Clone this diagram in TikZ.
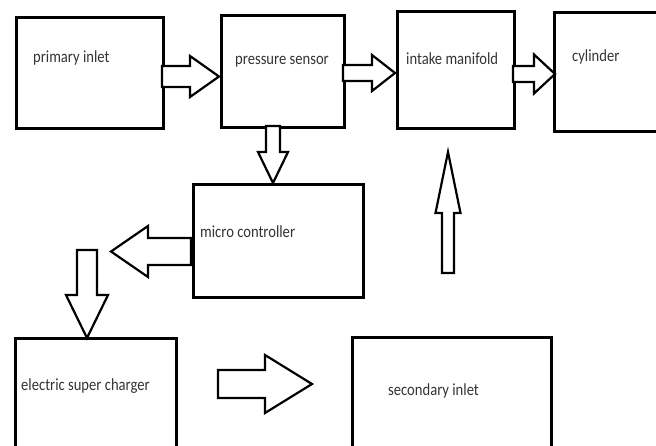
\documentclass[tikz,border=0pt]{standalone}
\usepackage{fontspec}
\setmainfont{Carlito}
\newcommand{\harr}[6]{\draw[blk] (#1,#4-#5) -- (#2,#4-#5) -- (#2,#4-#6) -- (#3,#4) -- (#2,#4+#6) -- (#2,#4+#5) -- (#1,#4+#5) -- cycle;}
\newcommand{\varr}[6]{\draw[blk] (#4-#5,#1) -- (#4-#5,#2) -- (#4-#6,#2) -- (#4,#3) -- (#4+#6,#2) -- (#4+#5,#2) -- (#4+#5,#1) -- cycle;}
\begin{document}
\begin{tikzpicture}[x=1pt,y=-1pt,
  box/.style={draw=black, line width=3pt, inner sep=0pt, anchor=north west},
  blk/.style={draw=black, line width=2.2pt, fill=white, line join=miter},
  lbl/.style={anchor=base west, inner sep=0pt, text=black!80, xscale=0.86, font=\fontsize{17}{20}\selectfont}]
\useasboundingbox (0,0) rectangle (656,445);
\clip (0,0) rectangle (656,445);
% boxes
\node[box, minimum width=147pt, minimum height=111pt] (prim) at (15,16) {};
\node[box, minimum width=123pt, minimum height=112pt] (press) at (220,14) {};
\node[box, minimum width=117pt, minimum height=117pt] (intake) at (396,10) {};
\node[box, minimum width=127pt, minimum height=119pt] (cyl) at (553,11) {};
\node[box, minimum width=170pt, minimum height=113pt] (micro) at (192,183) {};
\node[box, minimum width=161pt, minimum height=123pt] (elec) at (14,337) {};
\node[box, minimum width=199pt, minimum height=124pt] (sec) at (351,336) {};
% labels
\node[lbl] (tprim) at (33,62) {primary inlet};
\node[lbl] (tpress) at (235,64) {pressure sensor};
\node[lbl] (tintake) at (406,64) {intake manifold};
\node[lbl] (tcyl) at (572,61) {cylinder};
\node[lbl] (tmicro) at (200,237) {micro controller};
\node[lbl] (telec) at (21,390) {electric super charger};
\node[lbl] (tsec) at (388,395) {secondary inlet};
% block arrows
\harr{162}{190}{219}{76.5}{10.5}{20.5}
\harr{343}{372}{395}{73}{8}{18}
\harr{513}{534}{555}{74}{8}{19.5}
\harr{218}{265}{312}{384}{14}{29}
\harr{191}{148}{111}{251.5}{13.5}{25.5}
\varr{126}{152}{183}{273}{7}{15}
\varr{250}{295}{338}{87}{10}{21}
\varr{273}{213}{152}{448}{6}{12.5}
\end{tikzpicture}
\end{document}
